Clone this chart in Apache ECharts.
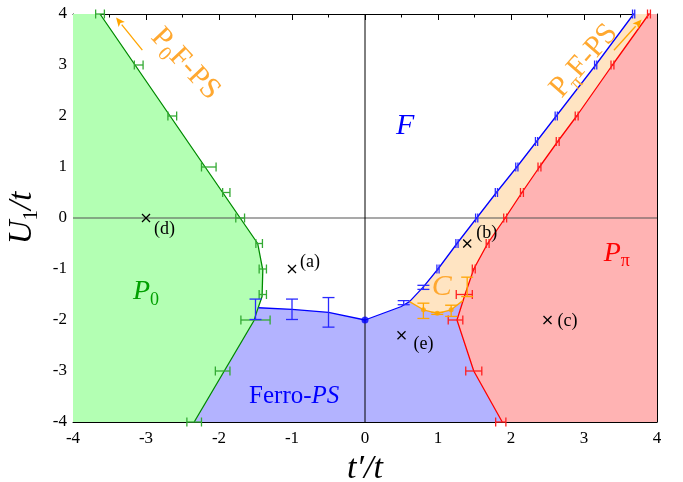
<!DOCTYPE html>
<html><head><meta charset="utf-8">
<script src="https://cdn.jsdelivr.net/npm/echarts@6/dist/echarts.min.js"></script>
<style>html,body{margin:0;padding:0;background:#fff}#c{width:683px;height:482px}</style>
</head><body><div id="c"></div>
<script>
// ---- tick labels ----
const xTicks = [-4,-3,-2,-1,0,1,2,3,4];
const xTickLabels = ['-4','-3','-2','-1','0','1','2','3','4'];
const yTicks = [-4,-3,-2,-1,0,1,2,3,4];
const yTickLabels = ['-4','-3','-2','-1','0','1','2','3','4'];

// ---- phase boundaries (t'/t, U1/t) ----
const greenLine = [[-3.63,4],[-3.15,3],[-2.67,2],[-2.19,1],[-1.95,0.5],[-1.71,0],[-1.47,-0.5],[-1.40,-1.02],[-1.41,-1.54],[-1.49,-1.87],[-1.52,-2.01],[-2.34,-4]];
const blueLine = [[-1.46,-1.76],[-1.0,-1.79],[-0.5,-1.85],[0,-2],[0.49,-1.74],[0.61,-1.64],[0.80,-1.35],[1.0,-1.0],[1.26,-0.5],[1.53,0],[1.80,0.5],[2.08,1],[2.35,1.5],[2.62,2],[3.16,3],[3.68,4]];
const redLine = [[3.89,4],[3.39,3],[2.90,2],[2.64,1.5],[2.39,1],[2.15,0.5],[1.92,0],[1.68,-0.5],[1.49,-1],[1.37,-1.5],[1.26,-2],[1.49,-3],[1.88,-4]];
const orangeLine = [[0.61,-1.64],[0.80,-1.80],[0.99,-1.87],[1.18,-1.80],[1.34,-1.62]];
const orangeDots = [[0.80,-1.80],[0.99,-1.87],[1.18,-1.80]];
const blueDot = [[0,-2]];

// ---- error bars: [x, y, half-width] ----
const greenXErr = [[-3.63,4,0.06],[-3.10,3,0.06],[-2.64,2,0.06],[-2.14,1,0.10],[-1.90,0.5,0.05],[-1.71,0,0.06],[-1.45,-0.5,0.045],[-1.40,-1,0.05],[-1.40,-1.5,0.05],[-1.50,-2,0.20],[-1.95,-3,0.10],[-2.34,-4,0.10]];
const blueYErr = [[-1.5,-1.79,0.2],[-1.0,-1.79,0.2],[-0.5,-1.85,0.29],[0.53,-1.66,0.04],[0.80,-1.36,0.04]];
const blueXErr = [[1.0,-1,0.015],[1.26,-0.5,0.015],[1.53,0,0.015],[1.80,0.5,0.015],[2.08,1,0.015],[2.35,1.5,0.015],[2.62,2,0.015],[3.16,3,0.015],[3.68,4,0.015]];
const redXErr = [[3.89,4,0.02],[3.39,3,0.02],[2.90,2,0.02],[2.64,1.5,0.02],[2.39,1,0.02],[2.15,0.5,0.02],[1.92,0,0.02],[1.68,-0.5,0.02],[1.49,-1,0.02],[1.36,-1.5,0.11],[1.24,-2,0.10],[1.49,-3,0.11],[1.86,-4,0.07]];
const orangeYErr = [[0.80,-1.82,0.15],[0.99,-1.87,0.02],[1.18,-1.82,0.11],[1.40,-1.35,0.19]];

// ---- sample points ----
const samplePts = [[-1,-1],[1.4,-0.5],[2.5,-2],[-3,0],[0.5,-2.3]];
const sampleNames = ['(a)','(b)','(c)','(d)','(e)'];

// ---- phase labels ----
const phaseLabelPos = [[0.55,1.8],[-3.0,-1.45],[3.45,-0.7],[1.05,-1.35],[-0.97,-3.49]];
const phaseLabelText = ['{i|F}','{i|P}{s|0}','{i|P}{s|π}','{i|C}','{r|Ferro-}{i|PS}'];
const annotPos = [[-2.46,3.02],[3.0,3.08]];
const annotText = ['{r|P}{s|0}{r|F-PS}','{r|P}{s|π}{r|F-PS}'];
const arrowPts = [[[-3.05,3.29],[-3.41,3.93]],[[3.41,3.29],[3.79,3.89]]];

// ---- regions built from the boundaries ----
const greenPoly = [[-4,4]].concat(greenLine, [[-4,-4]]);
const bluePoly = greenLine.slice(9).reverse().concat(blueLine.slice(0,6), orangeLine.slice(1), redLine.slice(10));
const orangePoly = blueLine.slice(5).concat(redLine.slice(0,10), orangeLine.slice().reverse());
const redPoly = [[4,4],[4,-4]].concat(redLine.slice().reverse());

const FONT = "'Liberation Serif','DejaVu Serif',serif";
const C = {gFill:'#b3ffb3', gLine:'#008a00', gBar:'#33aa33', bFill:'#b3b3ff', bLine:'#0000ff', bBar:'#2a2aff',
           rFill:'#ffb3b3', rLine:'#ff0000', rBar:'#ff2020', oFill:'#ffe4c2', oLine:'#ffa500', oText:'#ffa830'};

function polySeries(pts, fill){
  return {type:'custom', silent:true, z:1, data:[0], renderItem:(p,api)=>({
    type:'polygon', shape:{points: pts.map(q=>api.coord(q))}, style:{fill:fill, stroke:null}})};
}
function errSeries(arr, color, horiz, cap){
  return {type:'custom', silent:true, z:6, data:arr, renderItem:(p,api)=>{
    const x=api.value(0), y=api.value(1), d=api.value(2);
    const a = horiz? api.coord([x-d,y]) : api.coord([x,y-d]);
    const b = horiz? api.coord([x+d,y]) : api.coord([x,y+d]);
    const st = {stroke:color, lineWidth:1.3};
    const capLine = (q)=> horiz ? {type:'line', shape:{x1:q[0],y1:q[1]-cap,x2:q[0],y2:q[1]+cap}, style:st}
                                : {type:'line', shape:{x1:q[0]-cap,y1:q[1],x2:q[0]+cap,y2:q[1]}, style:st};
    return {type:'group', children:[{type:'line', shape:{x1:a[0],y1:a[1],x2:b[0],y2:b[1]}, style:st}, capLine(a), capLine(b)]};
  }};
}
function lineSeries(data, color, w){
  return {type:'line', data:data, symbol:'none', z:4, silent:true, lineStyle:{color:color, width:w||1.3}, animation:false};
}
const richBase = (size, color) => ({
  i:{fontFamily:FONT, fontStyle:'italic', fontSize:size, fill:color, color:color, verticalAlign:'top', lineHeight:size},
  r:{fontFamily:FONT, fontSize:size, fill:color, color:color, verticalAlign:'top', lineHeight:size},
  s:{fontFamily:FONT, fontSize:Math.round(size*0.65), fill:color, color:color, verticalAlign:'top', lineHeight:Math.round(size*0.65), padding:[Math.round(size*0.45),0,0,0]}
});

const axisCommon = {
  type:'value', min:-4, max:4, interval:1,
  axisLine:{show:true, onZero:false, lineStyle:{color:'#000', width:1}},
  axisTick:{show:true, inside:true, length:6, lineStyle:{color:'#000'}},
  minorTick:{show:true, splitNumber:2, length:3.5, lineStyle:{color:'#000'}},
  splitLine:{show:false}, minorSplitLine:{show:false}
};
const labelStyle = {fontFamily:FONT, fontSize:17, color:'#000'};

const chart = echarts.init(document.getElementById('c'), null, {renderer:'canvas'});
chart.setOption({
  animation:false,
  backgroundColor:'#fff',
  grid:{left:73, right:26, top:14, bottom:60, containLabel:false, outerBoundsMode:'none'},
  xAxis:[
    Object.assign({}, axisCommon, {position:'bottom',
      axisLabel:Object.assign({}, labelStyle, {margin:8, formatter:v=>xTickLabels[xTicks.indexOf(v)]}),
      name:'{i|t′/t}', nameLocation:'middle', nameGap:22,
      nameTextStyle:{rich:richBase(34,'#000')}}),
    Object.assign({}, axisCommon, {position:'top', axisLabel:{show:false}})
  ],
  yAxis:[
    Object.assign({}, axisCommon, {position:'left',
      axisLabel:Object.assign({}, labelStyle, {margin:6, formatter:v=>yTickLabels[yTicks.indexOf(v)]}),
      name:'{i|U}{s|1}{i|/t}', nameLocation:'middle', nameGap:23, nameRotate:90,
      nameTextStyle:{rich:richBase(33,'#000')}}),
    Object.assign({}, axisCommon, {position:'right', axisLabel:{show:false}})
  ],
  series:[
    polySeries(greenPoly, C.gFill),
    polySeries(bluePoly, C.bFill),
    polySeries(orangePoly, C.oFill),
    polySeries(redPoly, C.rFill),
    // zero lines
    {type:'custom', silent:true, z:2, data:[0], renderItem:(p,api)=>{
      const cs = p.coordSys; const o = api.coord([0,0]);
      return {type:'group', children:[
        {type:'line', shape:{x1:cs.x, y1:o[1], x2:cs.x+cs.width, y2:o[1]}, style:{stroke:'#555', lineWidth:1.2}},
        {type:'line', shape:{x1:o[0], y1:cs.y, x2:o[0], y2:cs.y+cs.height}, style:{stroke:'#000', lineWidth:1}}]};
    }},
    lineSeries(greenLine, C.gLine),
    lineSeries(blueLine, C.bLine),
    lineSeries(redLine, C.rLine),
    lineSeries(orangeLine, C.oLine),
    errSeries(greenXErr, C.gBar, true, 4.5),
    errSeries(blueYErr, C.bBar, false, 6),
    errSeries(blueXErr, C.bBar, true, 4.5),
    errSeries(redXErr, C.rBar, true, 4.5),
    errSeries(orangeYErr, C.oLine, false, 6),
    {type:'scatter', data:blueDot, symbol:'circle', symbolSize:7, z:7, silent:true, itemStyle:{color:C.bLine}},
    {type:'scatter', data:orangeDots, symbol:'circle', symbolSize:5, z:7, silent:true, itemStyle:{color:C.oLine}},
    // sample points
    {type:'custom', silent:true, z:8, data:samplePts, renderItem:(p,api)=>{
      const c = api.coord([api.value(0), api.value(1)]); const s=4;
      const offs = [[8,-16],[9,-19],[10,-8],[8,2],[12,0]];
      const o = offs[p.dataIndex];
      return {type:'group', children:[
        {type:'line', shape:{x1:c[0]-s,y1:c[1]-s,x2:c[0]+s,y2:c[1]+s}, style:{stroke:'#000', lineWidth:1.3}},
        {type:'line', shape:{x1:c[0]-s,y1:c[1]+s,x2:c[0]+s,y2:c[1]-s}, style:{stroke:'#000', lineWidth:1.3}},
        {type:'text', x:c[0]+o[0], y:c[1]+o[1], style:{text:sampleNames[p.dataIndex], fontFamily:FONT, fontSize:18, fill:'#000', align:'left', verticalAlign:'top'}}]};
    }},
    // phase labels
    {type:'custom', silent:true, z:8, data:phaseLabelPos, renderItem:(p,api)=>{
      const c = api.coord([api.value(0), api.value(1)]);
      const cols = [C.bLine, '#00a000', C.rLine, C.oText, C.bLine];
      const sizes = [30,28,28,30,25];
      return {type:'text', x:c[0], y:c[1], style:{text:phaseLabelText[p.dataIndex], rich:richBase(sizes[p.dataIndex], cols[p.dataIndex]), align:'center', verticalAlign:'middle'}};
    }},
    // rotated annotations with arrows
    {type:'custom', silent:true, z:8, data:annotPos, renderItem:(p,api)=>{
      const i = p.dataIndex;
      const c = api.coord([api.value(0), api.value(1)]);
      const rot = [-47, 49][i]*Math.PI/180;
      const a = api.coord(arrowPts[i][0]), b = api.coord(arrowPts[i][1]);
      const dx=b[0]-a[0], dy=b[1]-a[1], L=Math.hypot(dx,dy), ux=dx/L, uy=dy/L;
      const h=9, w=4;
      const bx=b[0]-ux*h, by=b[1]-uy*h;
      return {type:'group', children:[
        {type:'text', x:c[0], y:c[1], rotation:rot, style:{text:annotText[i], rich:richBase(30, C.oText), align:'center', verticalAlign:'middle'}},
        {type:'line', shape:{x1:a[0],y1:a[1],x2:bx,y2:by}, style:{stroke:C.oLine, lineWidth:1.3}},
        {type:'polygon', shape:{points:[[b[0],b[1]],[bx-uy*w,by+ux*w],[bx+ux*2,by+uy*2],[bx+uy*w,by-ux*w]]}, style:{fill:C.oLine}}]};
    }}
  ]
});
</script></body></html>
